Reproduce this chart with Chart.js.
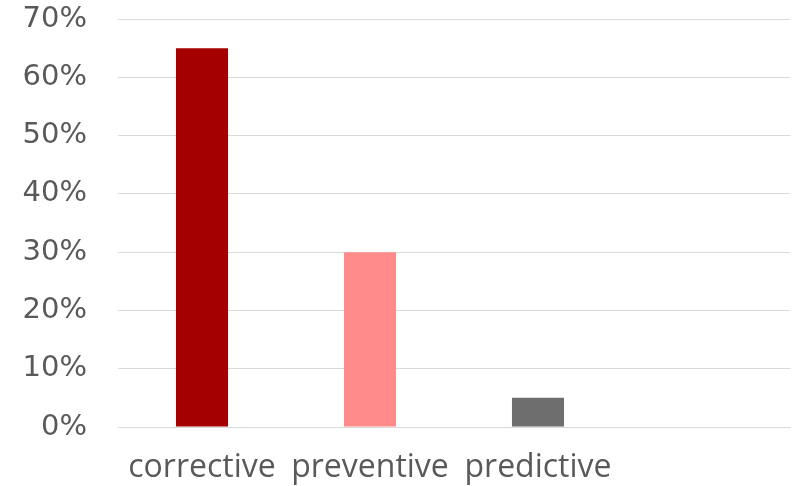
<!DOCTYPE html>
<html>
<head>
<meta charset="utf-8">
<script src="https://cdn.jsdelivr.net/npm/chart.js@4/dist/chart.umd.min.js"></script>
<style>
  html, body { margin: 0; padding: 0; background: #ffffff; }
  canvas { display: block; }
</style>
</head>
<body>
<canvas id="c" width="792" height="486"></canvas>
<script>
// Maintenance strategy shares (percent)
const categories = ['corrective', 'preventive', 'predictive', ''];
const shares = [65, 30, 5, null];
const barColors = ['#A50000', '#FF8B8B', '#6E6E6E', '#6E6E6E'];
const yTicks = [0, 10, 20, 30, 40, 50, 60, 70];

new Chart(document.getElementById('c'), {
  type: 'bar',
  data: {
    labels: categories,
    datasets: [{
      data: shares,
      backgroundColor: barColors,
      borderWidth: 0,
      barPercentage: 0.31,
      categoryPercentage: 1.0
    }]
  },
  options: {
    responsive: false,
    animation: false,
    layout: { autoPadding: false, padding: { top: 19, right: 2, bottom: 0, left: 0 } },
    plugins: { legend: { display: false }, tooltip: { enabled: false } },
    scales: {
      x: {
        afterFit: (s) => { s.height = 59; s.paddingLeft = 0; s.paddingRight = 0; },
        grid: { display: false, drawTicks: false },
        border: { display: true, color: '#D9D9D9', width: 1 },
        ticks: {
          color: '#595959',
          padding: 22,
          maxRotation: 0,
          autoSkip: false,
          font: { family: 'Open Sans', size: 32, lineHeight: 1.2 }
        }
      },
      y: {
        min: 0,
        max: 70,
        afterBuildTicks: (axis) => { axis.ticks = yTicks.map(v => ({ value: v })); },
        afterFit: (s) => { s.width = 118; s.paddingTop = 0; s.paddingBottom = 0; },
        grid: { color: '#D9D9D9', drawTicks: false, lineWidth: 1 },
        border: { display: false },
        ticks: {
          color: '#595959',
          padding: 31,
          font: { family: 'DejaVu Sans', size: 29, lineHeight: 1.2 },
          callback: (v) => v + '%'
        }
      }
    }
  }
});
</script>
</body>
</html>
